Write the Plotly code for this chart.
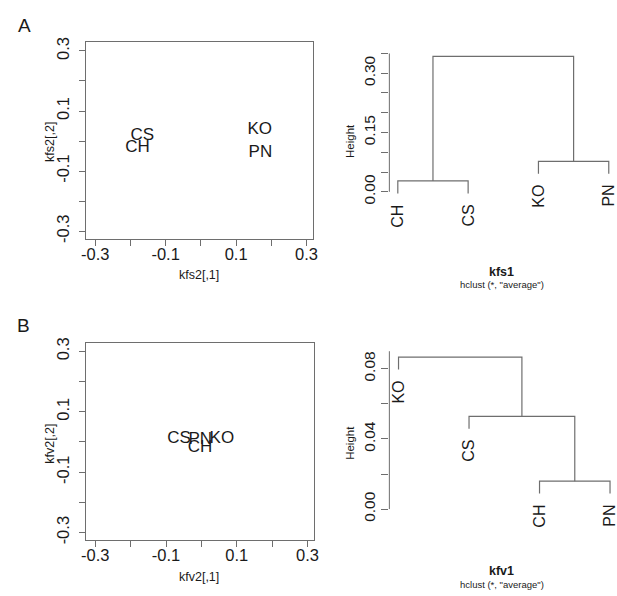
import plotly.graph_objects as go

W, H = 617, 596
FONT = "Liberation Sans, Arial, sans-serif"
TXT = "#1a1a1a"
LINE = "#6e6e6e"

# ---------------- data ----------------
# Panel A scatter (kfs2)
a_labels = ["CS", "CH", "KO", "PN"]
a_x = [-0.166, -0.180, 0.167, 0.169]
a_y = [0.019, -0.023, 0.036, -0.038]

# Panel B scatter (kfv2)
b_labels = ["CS", "PN", "CH", "KO"]
b_x = [-0.063, -0.003, -0.004, 0.058]
b_y = [0.009, 0.006, -0.018, 0.009]

scatter_tickvals = [-0.3, -0.2, -0.1, 0.0, 0.1, 0.2, 0.3]
scatter_ticktext = ["-0.3", "", "-0.1", "", "0.1", "", "0.3"]

# Dendrogram A (kfs1), leaves in plotting order, merges R-style
da_leaves = ["CH", "CS", "KO", "PN"]
da_merge = [(-1, -2), (-3, -4), (1, 2)]
da_heights = [0.0274, 0.0771, 0.3426]
da_tickvals = [0.0, 0.05, 0.10, 0.15, 0.20, 0.25, 0.30, 0.35]
da_ticktext = ["0.00", "", "", "0.15", "", "", "0.30", ""]

# Dendrogram B (kfv1)
db_leaves = ["KO", "CS", "CH", "PN"]
db_merge = [(-3, -4), (-2, 1), (-1, 2)]
db_heights = [0.0159, 0.0529, 0.0866]
db_tickvals = [0.0, 0.02, 0.04, 0.06, 0.08]
db_ticktext = ["0.00", "", "0.04", "", "0.08"]


def px_dom(a, b, total):
    return [a / total, b / total]


def py_dom(top, bottom):
    return [1 - bottom / H, 1 - top / H]


def dendro(merge, heights, hang=0.1):
    hng = hang * (max(heights) - min(heights))
    xs, ys = [], []
    cx = {}
    leaf_ends = {}
    for i, (a, b) in enumerate(merge, start=1):
        h = heights[i - 1]
        pts = []
        for c in (a, b):
            if c < 0:
                x = -c
                y0 = h - hng
                leaf_ends[-c] = y0
            else:
                x = cx[c]
                y0 = heights[c - 1]
            pts.append((x, y0))
        xs += [pts[0][0], pts[0][0], pts[1][0], pts[1][0], None]
        ys += [pts[0][1], h, h, pts[1][1], None]
        cx[i] = (pts[0][0] + pts[1][0]) / 2
    return xs, ys, leaf_ends


fig = go.Figure()

# scatter panels
fig.add_trace(go.Scatter(x=a_x, y=a_y, text=a_labels, mode="text",
                         textfont=dict(family=FONT, size=17, color=TXT),
                         textposition="middle center", xaxis="x", yaxis="y",
                         showlegend=False, hoverinfo="skip"))
fig.add_trace(go.Scatter(x=b_x, y=b_y, text=b_labels, mode="text",
                         textfont=dict(family=FONT, size=17, color=TXT),
                         textposition="middle center", xaxis="x2", yaxis="y2",
                         showlegend=False, hoverinfo="skip"))

# dendrograms
annotations = []
for (leaves, merge, heights, xa, ya) in [
    (da_leaves, da_merge, da_heights, "x3", "y3"),
    (db_leaves, db_merge, db_heights, "x4", "y4"),
]:
    xs, ys, ends = dendro(merge, heights)
    fig.add_trace(go.Scatter(x=xs, y=ys, mode="lines",
                             line=dict(color=LINE, width=1.2),
                             xaxis=xa, yaxis=ya, showlegend=False,
                             hoverinfo="skip"))
    for i, lab in enumerate(leaves, start=1):
        annotations.append(dict(x=i, y=ends[i], xref=xa, yref=ya, text=lab,
                                showarrow=False, textangle=-90,
                                xanchor="center", yanchor="top", yshift=-9,
                                font=dict(family=FONT, size=16, color=TXT)))

scatter_axis = dict(showline=True, linecolor=LINE, linewidth=1, mirror=True,
                    ticks="outside", ticklen=6, tickcolor=LINE,
                    showgrid=False, zeroline=False,
                    tickvals=scatter_tickvals, ticktext=scatter_ticktext,
                    tickfont=dict(family=FONT, size=16.5, color=TXT))

xscatter = dict(scatter_axis, ticklabelstandoff=-6)
yscatter = dict(scatter_axis, tickangle=-90, ticklabelstandoff=3)

dendro_x = dict(showline=False, showgrid=False, zeroline=False,
                showticklabels=False, ticks="")
dendro_y = dict(showline=False, showgrid=False, zeroline=False,
                ticks="outside", ticklen=7, tickcolor=LINE, tickangle=-90,
                tickfont=dict(family=FONT, size=15.5, color=TXT))

fig.update_layout(
    width=W, height=H, margin=dict(l=0, r=0, t=0, b=0),
    paper_bgcolor="white", plot_bgcolor="white",
    xaxis=dict(xscatter, domain=px_dom(82, 313, W), range=[-0.327, 0.318], anchor="y"),
    yaxis=dict(yscatter, domain=py_dom(38, 238), range=[-0.326, 0.3285], anchor="x"),
    xaxis2=dict(xscatter, domain=px_dom(82, 314, W), range=[-0.327, 0.318], anchor="y2"),
    yaxis2=dict(yscatter, domain=py_dom(343.3, 544), range=[-0.324, 0.329], anchor="x2"),
    xaxis3=dict(dendro_x, domain=px_dom(390.7, 617, W), range=[0.88, 4.046], anchor="y3"),
    yaxis3=dict(dendro_y, domain=py_dom(40, 200), range=[-0.0249, 0.3731],
                tickvals=da_tickvals, ticktext=da_ticktext, anchor="x3"),
    xaxis4=dict(dendro_x, domain=px_dom(390.7, 617, W), range=[0.87, 4.028], anchor="y4"),
    yaxis4=dict(dendro_y, domain=py_dom(345, 520), range=[-0.0041, 0.0940],
                tickvals=db_tickvals, ticktext=db_ticktext, anchor="x4"),
)

# dendrogram y-axis lines (from first to last tick)
shapes = [
    dict(type="line", xref="x3 domain", yref="y3", x0=0, x1=0,
         y0=da_tickvals[0], y1=da_tickvals[-1], line=dict(color=LINE, width=1)),
    dict(type="line", xref="x4 domain", yref="y4", x0=0, x1=0,
         y0=db_tickvals[0], y1=0.09, line=dict(color=LINE, width=1)),
]


def paper(x, y):
    return x / W, 1 - y / H


def add_text(text, x, y, size, angle=0, bold=False):
    px, py = paper(x, y)
    annotations.append(dict(x=px, y=py, xref="paper", yref="paper",
                            text=f"<b>{text}</b>" if bold else text,
                            showarrow=False, textangle=angle,
                            xanchor="center", yanchor="middle",
                            font=dict(family=FONT, size=size, color=TXT)))


add_text("A", 20, 21, 19)
add_text("B", 19, 326, 19)
add_text("kfs2[,1]", 197, 275, 12.5)
add_text("kfs2[,2]", 45, 139, 12.5, angle=-90)
add_text("kfv2[,1]", 197, 582, 12.5)
add_text("kfv2[,2]", 45, 446, 12.5, angle=-90)
add_text("Height", 350, 138, 11.5, angle=-90)
add_text("Height", 350, 445, 11.5, angle=-90)
add_text("kfs1", 505, 272, 12.5, bold=True)
add_text("hclust (*, \"average\")", 505, 284, 9.5)
add_text("kfv1", 505, 576, 12.5, bold=True)
add_text("hclust (*, \"average\")", 505, 589, 9.5)

fig.update_layout(annotations=annotations, shapes=shapes)

fig.write_html("out.html")
